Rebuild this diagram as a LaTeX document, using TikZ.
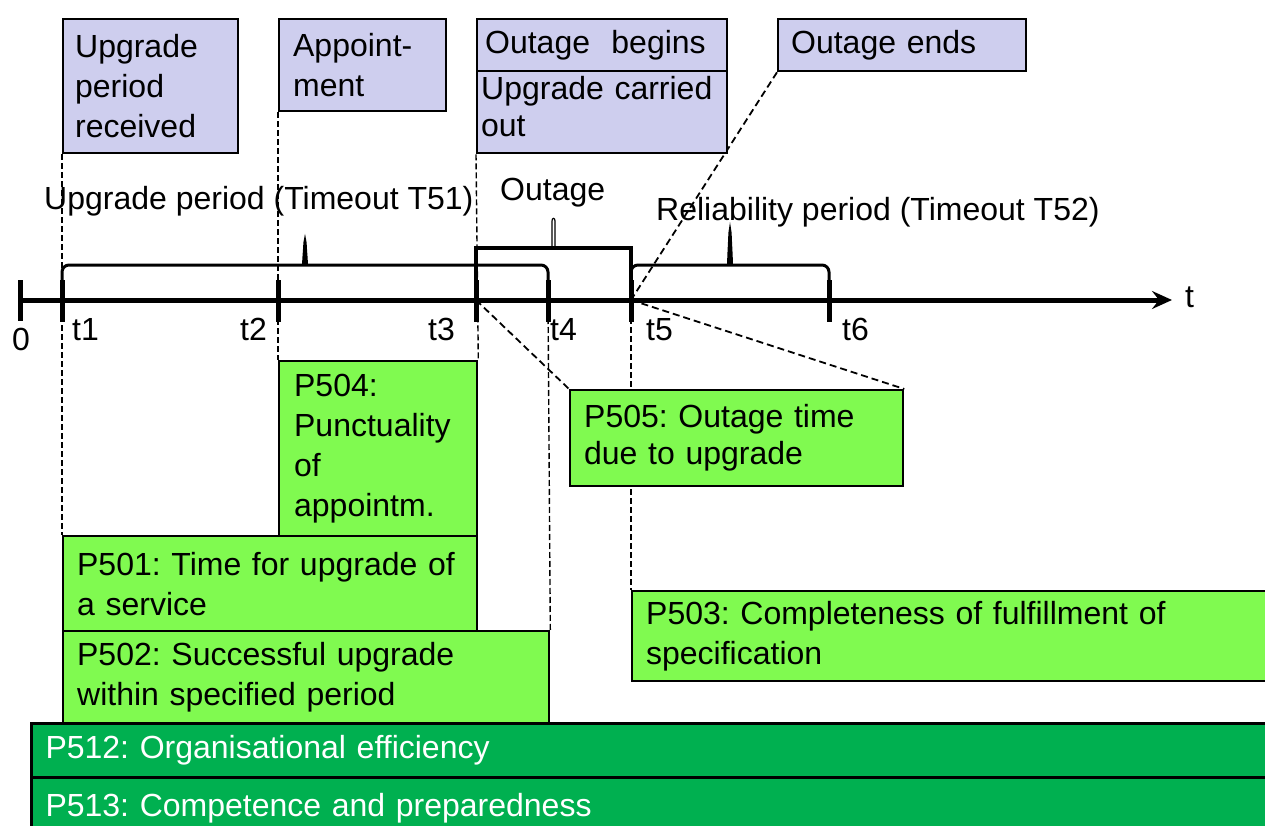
\documentclass[tikz,border=0pt]{standalone}
\usepackage{fontspec}
\setmainfont{Liberation Sans}
\usetikzlibrary{arrows.meta}
\definecolor{lav}{RGB}{206,206,238}
\definecolor{lgreen}{RGB}{128,250,80}
\definecolor{dgreen}{RGB}{0,176,80}
\pgfdeclarelayer{bg}
\pgfsetlayers{bg,main}
\frenchspacing
\begin{document}
\begin{tikzpicture}[x=1pt,y=-1pt,
  every node/.style={font=\fontsize{32}{40}\selectfont, inner sep=0pt},
  box/.style={draw=black, line width=2.3pt, anchor=north west, inner ysep=0pt, align=left},
  evbox/.style={box, fill=lav},
  kpibox/.style={box, fill=lgreen},
  genbox/.style={box, fill=dgreen, text=white, line width=3pt},
  guide/.style={draw=black, line width=1.4pt, dash pattern=on 6pt off 3pt},
  slant/.style={draw=black, line width=1.8pt, dash pattern=on 7pt off 4pt},
  axisline/.style={line width=5pt},
  tickline/.style={line width=5pt},
  brc/.style={line width=3pt, rounded corners=7pt},
  lbl/.style={anchor=base west},
]
\useasboundingbox (0,0) rectangle (1265,826);
\clip (0,0) rectangle (1265,826);

% time points
\coordinate (o) at (20,300);
\coordinate (t1) at (62,300);
\coordinate (t2) at (278,300);
\coordinate (t3) at (476,300);
\coordinate (t4) at (548,300);
\coordinate (t5) at (631,300);
\coordinate (t6) at (829,300);
\coordinate (tend) at (1172,300);

% event boxes
\node[evbox, text width=151pt, minimum height=134pt, inner xsep=12pt] (ev1) at (62,18) {Upgrade\\period\\received};
\node[evbox, text width=139pt, minimum height=92pt, inner xsep=14pt] (ev2) at (278,18) {Appoint-\\ment};
\node[evbox, text width=234pt, minimum height=52pt, inner xsep=8pt] (ev3) at (476,18) {\raisebox{-3pt}{Outage~ begins}};
\node[evbox, text width=242pt, minimum height=82pt, inner xsep=4pt] (ev4) at (476,70) {Upgrade carried\\[-3pt]out\rule[-12pt]{0pt}{1pt}};
\node[evbox, text width=222pt, minimum height=52pt, inner xsep=13pt] (ev5) at (777,18) {\raisebox{-3pt}{Outage ends}};

% KPI boxes
\node[kpibox, text width=168pt, minimum height=175pt, inner xsep=15pt] (p504) at (278,360) {P504:\\Punctuality\\of\\appointm.};
\node[kpibox, text width=386pt, minimum height=95pt, inner xsep=14pt] (p501) at (62,535) {P501: Time for upgrade of\\a service};
\node[kpibox, text width=458pt, minimum height=92pt, inner xsep=14pt] (p502) at (62,630) {P502: Successful upgrade\\within specified period};
\node[kpibox, text width=305pt, minimum height=96pt, inner xsep=14pt] (p505) at (569,389) {\raisebox{-3pt}{P505: Outage time}\\due to upgrade};
\node[kpibox, text width=672pt, minimum height=90pt, inner xsep=14pt] (p503) at (631,590) {P503: Completeness of fulfillment of\\specification};
\node[genbox, text width=1272pt, minimum height=54pt, inner xsep=14pt] (p512) at (30,722) {\raisebox{-2pt}{P512: Organisational efficiency}};
\node[genbox, text width=1272pt, minimum height=62pt, inner xsep=14pt] (p513) at (30,776) {P513: Competence and preparedness};

% guide lines
\begin{pgfonlayer}{bg}
\draw[guide] (ev1.south west) -- (p501.north west);
\draw[guide] (ev2.south west) -- (p504.north west);
\draw[guide] (ev4.south west) -- (p504.north east);
\draw[guide] (t4) -- (p502.north east);
\draw[guide] (t5) -- (p503.north west);
\draw[slant] (ev5.south west) -- (t5);
\draw[slant] (t3) -- (p505.north west);
\draw[slant] (t5) -- (p505.north east);
\end{pgfonlayer}

% braces
\draw[brc] (62,286) -- (62,265) -- (297,265) .. controls (303,265) and (304.5,252) .. (305,238) .. controls (305.5,252) and (307,265) .. (313,265) -- (548,265) -- (548,286);
\draw[brc] (631,286) -- (631,265) -- (722,265) .. controls (728,265) and (729.5,245) .. (730,228) .. controls (730.5,245) and (732,265) .. (738,265) -- (829,265) -- (829,286);
\draw[line width=3.2pt] (476,300) -- (476,248) -- (631,248) -- (631,300);
\draw[line width=1.2pt] (552,247) -- (552,221) .. controls (552,217.5) and (555,217.5) .. (555,221) -- (555,247);

% axis
\draw[axisline, -{Stealth[length=20pt,width=18pt,inset=7pt]}] (o) -- (tend);
\draw[tickline] (20,280) -- (20,321);
\foreach \p in {t1,t2,t3,t4,t5,t6} \draw[tickline] (\p) ++(0,-20) -- ++(0,42);

% labels
\node[lbl] (l0) at (12,350) {0};
\node[lbl] (l1) at (72,340) {t1};
\node[lbl] (l2) at (240,340) {t2};
\node[lbl] (l3) at (428,340) {t3};
\node[lbl] (l4) at (550,340) {t4};
\node[lbl] (l5) at (646,340) {t5};
\node[lbl] (l6) at (842,340) {t6};
\node[lbl] (lt) at (1185,307) {t};
\node[lbl] (lup) at (44,210) {Upgrade period (Timeout T51)};
\node[lbl] (lout) at (500,201) {Outage};
\node[lbl] (lrel) at (656,221) {Reliability period (Timeout T52)};
\end{tikzpicture}
\end{document}
